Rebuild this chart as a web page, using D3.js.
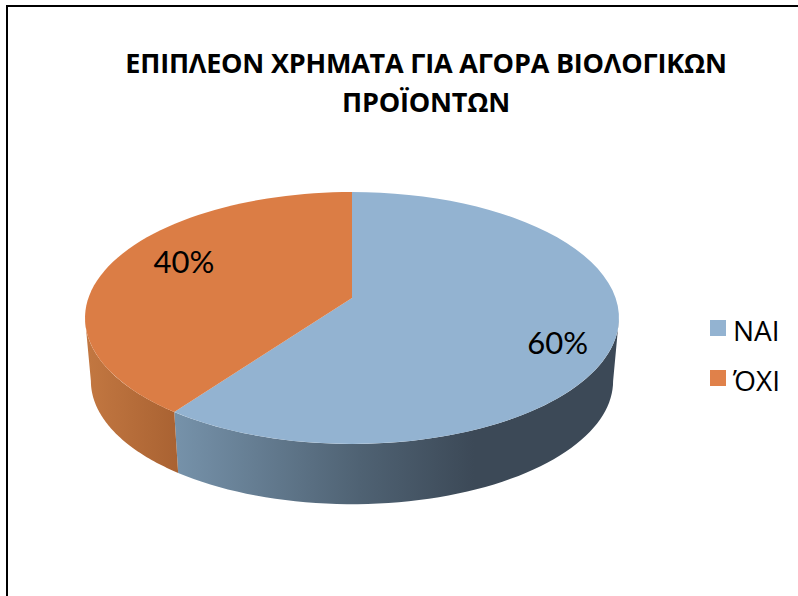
<!DOCTYPE html>
<html>
<head>
<meta charset="utf-8">
<script src="https://cdn.jsdelivr.net/npm/d3@7"></script>
<style>
html, body { margin: 0; padding: 0; background: #fff; }
svg { display: block; }
text { font-family: "Open Sans", sans-serif; fill: #000; }
</style>
</head>
<body>
<div id="chart"></div>
<script>
var categories = ["ΝΑΙ", "ΌΧΙ"];
var values = [60, 40];
var titleLines = ["ΕΠΙΠΛΕΟΝ ΧΡΗΜΑΤΑ ΓΙΑ ΑΓΟΡΑ ΒΙΟΛΟΓΙΚΩΝ", "ΠΡΟΪΟΝΤΩΝ"];
var topColors = ["#93b3d1", "#db7d45"];
var legendColors = ["#93b3d1", "#e0814a"];

var width = 798, height = 596;

var svg = d3.select("#chart").append("svg")
    .attr("width", width)
    .attr("height", height);

// frame
svg.append("rect")
    .attr("x", 7).attr("y", 6)
    .attr("width", width + 20).attr("height", height + 20)
    .attr("fill", "none").attr("stroke", "#000").attr("stroke-width", 2);

svg.selectAll("text.title")
    .data(titleLines)
    .enter().append("text")
    .attr("class", "title")
    .attr("x", 426)
    .attr("y", function(d, i) { return 73 + i * 39; })
    .attr("text-anchor", "middle")
    .attr("font-size", 27)
    .attr("font-weight", 700)
    .attr("letter-spacing", -0.2)
    .text(function(d) { return d; });

// perspective projection of the unit disc, fitted to the top face of the pie
var cx = 352, apexY = 298, persp = -0.1587, yGain = 75.5, xGain = 263.6;
var ellipseCy = 318, wallDrop = 63, wallShrink = 0.978;

function projectTop(a) {
    var u = Math.sin(a), v = -Math.cos(a), w = 1 + persp * v;
    return [cx + xGain * u / w, (yGain * v + apexY) / w];
}
function projectBottom(a) {
    var p = projectTop(a);
    return [cx + (p[0] - cx) * wallShrink, ellipseCy + wallDrop + (p[1] - ellipseCy) * wallShrink];
}
function sweep(a0, a1) {
    return d3.range(0, 61).map(function(i) { return a0 + (a1 - a0) * i / 60; });
}

var pie = d3.pie().sort(null)(values);
var line = d3.line();

// silhouette of the wall: where the rim turns back
var rimRight = Math.acos(persp), rimLeft = 2 * Math.PI - rimRight;

var defs = svg.append("defs");
var wallStops = [
    [[0, "#7692aa"], [0.42, "#4f6273"], [0.68, "#3c4957"], [1, "#3c4957"]],
    [[0, "#c27741"], [1, "#a96232"]]
];
var wallSpan = [[175, 615], [88, 178]];
wallStops.forEach(function(stops, i) {
    var g = defs.append("linearGradient")
        .attr("id", "wall" + i)
        .attr("gradientUnits", "userSpaceOnUse")
        .attr("x1", wallSpan[i][0]).attr("y1", 0)
        .attr("x2", wallSpan[i][1]).attr("y2", 0);
    stops.forEach(function(s) {
        g.append("stop").attr("offset", s[0]).attr("stop-color", s[1]);
    });
});

// walls
svg.selectAll("path.wall")
    .data(pie)
    .enter().append("path")
    .attr("class", "wall")
    .attr("fill", function(d, i) { return "url(#wall" + i + ")"; })
    .attr("d", function(d) {
        var a0 = Math.max(d.startAngle, rimRight), a1 = Math.min(d.endAngle, rimLeft);
        var angles = sweep(a0, a1);
        return line(angles.map(projectTop).concat(angles.reverse().map(projectBottom))) + "Z";
    });

// top face
svg.selectAll("path.slice")
    .data(pie)
    .enter().append("path")
    .attr("class", "slice")
    .attr("fill", function(d, i) { return topColors[i]; })
    .attr("d", function(d) {
        return line([[cx, apexY]].concat(sweep(d.startAngle, d.endAngle).map(projectTop))) + "Z";
    });

// value labels, placed on the slice's mid angle
var labelRadius = [0.78, 0.703], labelDy = [25, 0];
svg.selectAll("text.value")
    .data(pie)
    .enter().append("text")
    .attr("class", "value")
    .attr("text-anchor", "middle")
    .attr("font-family", "Lato")
    .style("font-family", "Lato, sans-serif")
    .attr("font-size", 31)
    .attr("x", function(d, i) {
        var m = (d.startAngle + d.endAngle) / 2;
        return cx + labelRadius[i] * (projectTop(m)[0] - cx);
    })
    .attr("y", function(d, i) {
        var m = (d.startAngle + d.endAngle) / 2;
        return apexY + labelRadius[i] * (projectTop(m)[1] - apexY) + labelDy[i];
    })
    .text(function(d) { return d.value + "%"; });

// legend
var legendY = d3.scalePoint().domain(categories).range([320, 370]);
var legend = svg.selectAll("g.legend")
    .data(categories)
    .enter().append("g")
    .attr("class", "legend")
    .attr("transform", function(d) { return "translate(710," + legendY(d) + ")"; });
legend.append("rect")
    .attr("width", 16).attr("height", 16)
    .attr("fill", function(d, i) { return legendColors[i]; });
legend.append("text")
    .attr("x", 23)
    .attr("y", 20.5)
    .attr("font-size", 28)
    .text(function(d) { return d; });
</script>
</body>
</html>
